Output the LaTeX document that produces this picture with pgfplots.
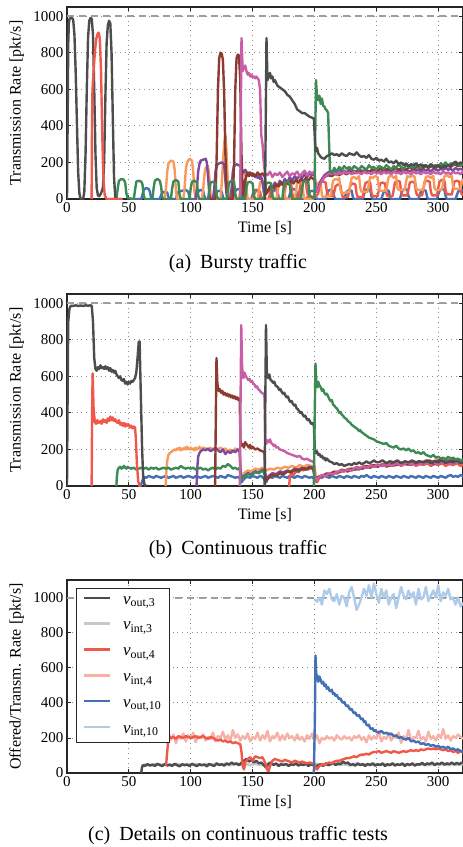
\documentclass[border=0pt]{standalone}
\usepackage{fontspec}
\setmainfont{Liberation Serif}
\usepackage{pgfplots}
\pgfplotsset{compat=1.18}
\definecolor{cgray}{HTML}{4D4D4D}
\definecolor{cred}{HTML}{F0584A}
\definecolor{cgreen}{HTML}{3E8A56}
\definecolor{corange}{HTML}{F79A5A}
\definecolor{cblue}{HTML}{4470B5}
\definecolor{cpurple}{HTML}{7E4A9E}
\definecolor{cbrown}{HTML}{8C3B30}
\definecolor{cmag}{HTML}{C85FA5}
\definecolor{lgray}{HTML}{C8C8C8}
\definecolor{lred}{HTML}{F7B2A8}
\definecolor{lblue}{HTML}{AECBEA}
\definecolor{refline}{HTML}{9E9E9E}

\pgfplotsset{
  panel/.style={
    scale only axis, width=396pt, height=192pt,
    xmin=0, xmax=320, ymin=0, ymax=1050,
    xtick={0,50,...,300}, ytick={0,200,...,1000},
    grid=major,
    major grid style={black!45, line width=0.8pt, dash pattern=on 0.8pt off 4pt},
    axis line style={line width=1.1pt, black!85},
    tick style={black!85, line width=0.8pt}, tick align=inside, major tick length=4pt,
    ticklabel style={font=\fontsize{15}{17}\selectfont},
    /pgf/number format/assume math mode=true,
    /pgf/number format/1000 sep={},
    xlabel={Time [s]},
    ylabel={Transmission Rate [pkt/s]},
    every axis y label/.style={at={(axis description cs:-0.127,0.5)},rotate=90,anchor=center,
      font=\fontsize{16}{19}\selectfont},
    every axis x label/.style={at={(axis description cs:0.5,0)},yshift=-29pt,anchor=center,
      font=\fontsize{16}{19}\selectfont},
  },
  ln/.style={line width=2.4pt, line join=round, #1},
  rl/.style={line width=2.1pt, refline, dash pattern=on 7pt off 5pt, forget plot},
}
\tikzset{capt/.style={font=\fontsize{20}{24}\selectfont}}

\begin{document}
\begin{tikzpicture}
\useasboundingbox (0,0) rectangle (463pt,-847pt);

% ---------------- (a) bursty traffic
\begin{axis}[panel, at={(67pt,-199pt)}, anchor=south west]
\addplot[rl] coordinates {(0,1000) (320,1000)};
% blue
\addplot[ln=cblue] coordinates {
(55,0)(60,0)(61,25)(62,50)(64,60)(66,55)(67,40)(68,5)(69,0)
(75,0)(76,20)(77,35)(79,40)(81,35)(82,10)(83,0)
(88,0)(89,25)(90,40)(93,45)(96,50)(98,40)(99,10)(100,0)
(104,0)(105,25)(106,40)(108,50)(110,45)(111,15)(112,0)
(119,0)(120,20)(121,40)(123,45)(125,40)(126,10)(127,0)
(134,0)(135,25)(136,45)(138,55)(140,50)(141,15)(142,0)
(149,0)(150,25)(151,45)(153,50)(155,45)(156,10)(157,0)
(164,0)(165,20)(166,40)(168,50)(170,45)(171,10)(172,0)
(179,0)(180,25)(181,45)(183,55)(185,50)(186,15)(187,0)
(194,0)(195,20)(196,40)(198,45)(200,40)(201,10)(202,0)
(209,0)(210,25)(211,45)(213,50)(215,45)(216,10)(217,0)
(224,0)(225,20)(226,40)(228,50)(230,45)(231,10)(232,0)
(239,0)(240,25)(241,45)(243,55)(245,50)(246,15)(247,0)
(254,0)(255,20)(256,40)(258,50)(260,45)(261,10)(262,0)
(269,0)(270,25)(271,45)(273,55)(275,50)(276,15)(277,0)
(284,0)(285,20)(286,40)(288,50)(290,45)(291,10)(292,0)
(299,0)(300,25)(301,45)(303,55)(305,50)(306,15)(307,0)
(314,0)(315,20)(316,40)(318,50)(320,45)};
% red bursts
\addplot[ln=cred] coordinates {
(145,0)(150,0)(151,20)(152,40)(154,45)(156,40)(157,10)(158,0)
(163,0)(164,30)(165,60)(167,70)(169,65)(170,20)(171,0)
(175,0)(176,40)(177,80)(179,95)(181,90)(182,30)(183,5)
(187,5)(188,50)(189,90)(191,100)(193,95)(194,40)(195,10)
(199,10)(200,20)(201,10)(203,30)(204,70)(205,100)(207,95)(209,90)(210,40)(211,15)
(215,15)(216,40)(217,70)(219,80)(221,75)(222,30)(223,10)
(227,10)(228,40)(229,75)(231,85)(233,80)(234,30)(235,10)
(239,10)(240,50)(241,85)(243,95)(245,90)(246,35)(247,15)
(251,15)(252,50)(253,85)(255,90)(257,85)(258,35)(259,15)
(263,15)(264,50)(265,90)(267,100)(269,95)(270,40)(271,20)
(275,20)(276,55)(277,90)(279,95)(281,90)(282,40)(283,20)
(287,20)(288,55)(289,95)(291,100)(293,95)(294,40)(295,20)
(299,20)(300,60)(301,95)(303,105)(305,100)(306,45)(307,25)
(311,25)(312,60)(313,95)(315,100)(317,95)(318,45)(319,25)(320,25)};
% orange
\addplot[ln=corange] coordinates {
(78,0)(79,0)(80,60)(81,150)(82,195)(84,210)(86,205)(87,160)(88,50)(89,0)
(94,0)(95,60)(96,160)(97,200)(99,220)(101,210)(102,150)(103,40)(104,0)
(109,0)(110,50)(111,130)(112,170)(114,180)(115,120)(116,30)(117,0)
(124,0)(125,80)(126,200)(127,300)(128,355)(129,250)(130,80)(131,0)
(139,0)(140,50)(141,120)(142,150)(144,140)(145,60)(146,0)
(154,0)(155,40)(156,90)(158,100)(159,40)(160,0)
(169,0)(170,30)(171,70)(173,80)(175,75)(176,20)(177,0)
(184,0)(185,40)(186,90)(188,100)(190,95)(191,30)(192,0)
(199,0)(200,30)(201,70)(203,90)(205,85)(206,20)(207,10)
(213,20)(214,60)(215,100)(217,110)(219,105)(220,115)(221,50)(222,30)
(228,40)(229,80)(230,115)(232,120)(234,110)(236,125)(237,60)(238,40)
(243,40)(244,90)(245,120)(247,115)(249,125)(251,120)(252,60)(253,45)
(258,45)(259,90)(260,120)(262,130)(264,115)(266,125)(267,60)(268,50)
(273,50)(274,95)(275,125)(277,120)(279,130)(281,120)(282,65)(283,50)
(288,50)(289,90)(290,120)(292,125)(294,115)(296,125)(297,60)(298,50)
(303,50)(304,95)(305,125)(307,130)(309,120)(311,125)(312,65)(313,55)
(318,55)(319,90)(320,110)};
% purple
\addplot[ln=cpurple] coordinates {
(103,0)(104,0)(105,60)(106,150)(107,190)(108,210)(110,215)(112,220)(113,200)(114,120)(115,30)(116,0)
(118,0)(119,60)(120,150)(121,185)(123,195)(125,200)(127,190)(128,100)(129,20)(130,0)
(132,0)(133,60)(134,150)(135,180)(137,190)(139,185)(141,170)(142,150)(143,145)(144,160)(145,150)
(146,135)(147,145)(148,130)(149,140)(150,125)(151,135)(152,120)(153,130)(154,115)(155,125)(156,110)
(157,120)(158,90)(159,40)(160,20)(162,40)(164,70)(166,60)(168,90)(170,70)(172,100)(174,80)(176,110)
(178,90)(180,120)(182,100)(184,125)(186,110)(188,130)(190,115)(192,135)(194,120)(196,140)(198,130)
(200,140)(201,60)(202,40)(204,80)(206,110)(208,130)(210,140)(212,150)(214,145)(216,155)(218,150)
(220,160)(222,150)(224,155)(226,145)(228,160)(230,150)(232,155)(234,145)(236,160)(238,155)(240,150)
(242,160)(244,145)(246,155)(248,150)(250,160)(252,150)(254,145)(256,155)(258,150)(260,160)(262,150)
(264,155)(266,145)(268,160)(270,150)(272,155)(274,160)(276,150)(278,155)(280,165)(282,155)(284,160)
(286,150)(288,165)(290,155)(292,160)(294,150)(296,165)(298,160)(300,155)(302,165)(304,160)(306,170)
(308,160)(310,165)(312,155)(314,170)(316,160)(318,165)(320,160)};
% brown
\addplot[ln=cbrown] coordinates {
(115,0)(120,0)(121,250)(122,600)(123,770)(124,800)(125,795)(126,760)(127,580)(128,250)(129,40)(130,0)
(134,0)(135,200)(136,600)(137,770)(138,790)(139,785)(140,650)(141,250)(142,40)(143,10)(144,100)
(145,130)(146,140)(147,125)(148,145)(149,130)(150,140)(152,125)(154,145)(156,130)(158,140)(160,120)
(161,30)(163,50)(165,70)(167,60)(169,80)(171,70)(173,90)(175,75)(177,95)(179,80)(181,100)(183,85)
(185,105)(187,90)(189,110)(191,95)(193,115)(195,100)(197,120)(199,110)(200,110)(201,40)(203,60)
(205,90)(208,120)(211,130)(214,125)(217,140)(220,130)(223,145)(226,135)(229,150)(232,140)(235,155)
(238,145)(241,160)(244,150)(247,160)(250,150)(253,165)(256,155)(259,165)(262,155)(265,170)(268,160)
(271,170)(274,160)(277,175)(280,165)(283,175)(286,165)(289,180)(292,170)(295,180)(298,170)(301,185)
(304,175)(307,185)(310,175)(313,190)(316,180)(320,185)};
% magenta
\addplot[ln=cmag] coordinates {
(139,0)(140,0)(140.5,500)(141,880)(142,700)(143,720)(144,730)(145,700)(146,680)(147,690)(148,670)
(149,680)(150,665)(151,670)(152,660)(153,670)(154,660)(155,650)(156,600)(157,350)(158,300)(159,200)
(160,140)(162,130)(164,150)(166,120)(168,140)(170,130)(172,145)(174,120)(176,135)(178,150)(180,125)
(182,140)(184,135)(186,150)(188,125)(190,140)(192,155)(194,130)(196,150)(198,140)(200,150)(201,60)
(202,40)(204,70)(206,100)(208,120)(210,130)(212,140)(214,135)(216,145)(218,130)(220,145)(222,135)
(224,150)(226,140)(228,145)(230,135)(232,150)(234,140)(236,145)(238,135)(240,150)(242,140)(244,145)
(246,135)(248,150)(250,140)(252,145)(254,135)(256,150)(258,140)(260,145)(262,135)(264,150)(266,140)
(268,145)(270,135)(272,150)(274,140)(276,145)(278,135)(280,150)(282,140)(284,145)(286,135)(288,150)
(290,140)(292,145)(294,135)(296,150)(298,140)(300,145)(302,135)(304,150)(306,140)(308,145)(310,135)
(312,150)(314,140)(316,145)(318,135)(320,150)};
% green
\addplot[ln=cgreen] coordinates {
(35,0)(40,0)(41,60)(42,100)(44,110)(46,105)(47,90)(48,30)(49,5)(54,0)(55,50)(56,95)(58,100)(60,95)
(61,80)(62,20)(63,0)(69,0)(70,60)(71,100)(73,110)(75,100)(76,70)(77,10)(78,0)(84,0)(85,60)(86,95)
(88,105)(90,95)(91,20)(92,0)(99,0)(100,60)(101,95)(103,100)(105,90)(106,20)(107,0)(114,0)(115,50)
(116,90)(118,95)(120,85)(121,20)(122,0)(129,0)(130,50)(131,90)(133,100)(135,95)(136,30)(137,0)
(144,5)(145,60)(146,90)(148,95)(150,85)(151,20)(152,0)(159,0)(160,50)(161,85)(163,90)(165,85)
(166,20)(167,0)(174,0)(175,60)(176,90)(178,95)(180,85)(181,20)(182,0)(189,0)(190,60)(191,95)
(193,100)(195,90)(196,20)(199,5)(200,10)(200.6,350)(201.2,650)(202,560)(203,540)(204,565)(205,520)
(206,550)(207,510)(208,505)(209,490)(210,485)(211,470)(211.8,300)(212.5,160)(214,140)(216,170)
(218,150)(220,175)(222,160)(224,180)(226,165)(228,175)(230,160)(232,180)(234,170)(236,160)(238,180)
(240,170)(242,160)(244,185)(246,170)(248,175)(250,160)(252,180)(254,175)(256,165)(258,185)(260,175)
(262,160)(264,180)(266,170)(268,190)(270,175)(272,165)(274,185)(276,175)(278,180)(280,170)(282,190)
(284,175)(286,170)(288,185)(290,180)(292,175)(294,190)(296,180)(298,185)(300,175)(302,195)(304,185)
(306,200)(308,180)(310,195)(312,185)(314,200)(316,190)(318,180)(320,195)};
% gray, second flow
\addplot[ln=cgray] coordinates {
(159,0)(160,0)(160.7,500)(161.2,880)(162,650)(163,670)(164,690)(165,660)(166,670)(167,640)(168,650)
(170,620)(172,610)(174,600)(176,590)(178,570)(180,560)(182,540)(184,520)(186,490)(188,480)(190,470)
(192,470)(194,460)(196,450)(198,445)(199.5,440)(200.5,300)(201,260)(202,280)(203,250)(204,240)
(205,230)(206,225)(208,220)(210,235)(212,240)(214,250)(216,240)(218,245)(220,235)(222,250)(224,240)
(226,235)(228,250)(230,245)(232,240)(234,255)(236,240)(238,230)(240,235)(242,225)(244,240)(246,220)
(248,215)(250,225)(252,210)(254,215)(256,205)(258,220)(260,200)(262,205)(264,195)(266,210)(268,190)
(270,200)(272,185)(274,195)(276,180)(278,190)(280,185)(282,195)(284,180)(286,190)(288,175)(290,185)
(292,175)(294,190)(296,180)(298,175)(300,185)(302,170)(304,180)(306,175)(308,185)(310,180)(312,195)
(314,205)(316,190)(318,200)(320,195)};
% gray, first flow
\addplot[ln=cgray] coordinates {
(0,0)(0.5,400)(1,850)(1.5,960)(2,985)(3,990)(4,990)(5,980)(6,900)(7,700)(8,420)(9,150)(10,30)(11,0)
(13,0)(14,40)(15,250)(16,600)(17,880)(18,975)(19,990)(20,985)(21,900)(22,600)(23,250)(24,60)(25,20)
(26,15)(27,25)(28,40)(29,60)(30,200)(31,550)(32,850)(33,950)(34,975)(35,960)(36,800)(37,450)(38,120)
(39,10)(40,0)(45,0)};
% red, first flow
\addplot[ln=cred] coordinates {
(19.9,0)(20.2,400)(20.6,600)(21.5,700)(22.5,800)(23.5,870)(24.5,900)(25.5,910)(26.5,880)(27.5,700)
(28.5,350)(29.5,100)(30.5,20)(32,0)(45,0)};
\end{axis}
\node[capt] at (238pt,-264pt) {(a)\hspace{0.45em}Bursty traffic};

% ---------------- (b) continuous traffic
\begin{axis}[panel, at={(67pt,-486pt)}, anchor=south west]
\addplot[rl] coordinates {(0,1000) (320,1000)};
% blue
\addplot[ln=cblue] coordinates {
(59.5,0)(60.5,20)(61.5,40)(62.5,50)(64,45)(66,55)(68,50)(70,45)(72,55)(74,50)(76,45)(78,50)(80,55)
(82,45)(84,50)(86,55)(88,45)(90,50)(92,55)(94,45)(96,50)(98,55)(100,50)(102,45)(104,55)(106,50)
(108,45)(110,50)(112,55)(114,45)(116,50)(118,55)(120,50)(122,45)(124,55)(126,50)(128,45)(130,60)
(132,55)(134,50)(136,45)(138,50)(140,40)(141,20)(142,30)(144,45)(146,50)(148,45)(150,55)(152,50)
(154,45)(156,55)(158,50)(160,30)(161,20)(162,40)(164,50)(166,45)(168,55)(170,50)(172,45)(174,55)
(176,50)(178,45)(180,55)(182,50)(184,45)(186,55)(188,50)(190,45)(192,55)(194,50)(196,45)(198,50)
(200,35)(201,25)(202,40)(204,50)(206,45)(208,55)(210,50)(212,45)(214,55)(216,50)(218,45)(220,55)
(222,50)(224,45)(226,55)(228,50)(230,45)(232,55)(234,50)(236,45)(238,55)(240,50)(242,60)(244,50)
(246,45)(248,55)(250,50)(252,45)(254,55)(256,50)(258,45)(260,55)(262,50)(264,45)(266,55)(268,50)
(270,45)(272,55)(274,50)(276,45)(278,55)(280,50)(282,45)(284,55)(286,50)(288,45)(290,55)(292,50)
(294,45)(296,55)(298,50)(300,45)(302,55)(304,50)(306,45)(308,55)(310,60)(312,50)(314,55)(316,50)
(318,60)(320,55)};
% red, second flow
\addplot[ln=cred] coordinates {
(179,0)(179.5,0)(180,40)(181,70)(183,60)(185,80)(187,75)(189,90)(191,85)(193,100)(195,90)(197,110)
(199,95)(200,105)(201,40)(202,20)(204,45)(207,55)(210,70)(213,65)(216,80)(219,75)(222,90)(225,85)
(228,95)(231,90)(234,105)(237,95)(240,110)(243,100)(246,115)(249,105)(252,110)(255,120)(258,105)
(261,115)(264,110)(267,125)(270,110)(273,120)(276,115)(279,125)(282,110)(285,120)(288,115)(291,125)
(294,110)(297,120)(300,115)(303,125)(306,110)(309,120)(312,115)(315,125)(318,110)(320,115)};
% orange
\addplot[ln=corange] coordinates {
(79.7,0)(80.3,80)(81,140)(82,170)(83,180)(84,185)(85,190)(86,195)(87,200)(88,195)(89,205)(90,200)
(91,210)(92,195)(93,205)(94,200)(95,210)(96,200)(97,215)(98,205)(99,200)(100,210)(101,200)(102,205)
(103,195)(104,210)(105,200)(106,205)(107,215)(108,200)(110,210)(112,205)(114,200)(116,210)(118,195)
(120,205)(122,200)(124,210)(126,200)(128,205)(130,190)(132,200)(134,185)(136,205)(138,195)(139.5,200)
(140.5,60)(143,70)(146,85)(149,80)(152,95)(155,90)(158,100)(161,85)(164,95)(167,90)(170,100)(173,95)
(176,105)(179,100)(182,110)(185,100)(188,115)(191,105)(194,115)(197,110)(200,105)(201,40)(203,50)
(206,60)(209,55)(212,70)(215,65)(218,80)(221,75)(224,85)(227,80)(230,95)(233,90)(236,100)(239,95)
(242,105)(245,100)(248,110)(251,105)(254,115)(257,110)(260,120)(263,115)(266,125)(269,120)(272,130)
(275,120)(278,125)(281,135)(284,125)(287,130)(290,140)(293,130)(296,135)(299,145)(302,130)(305,140)
(308,135)(311,145)(314,135)(317,140)(320,135)};
% purple
\addplot[ln=cpurple] coordinates {
(104.7,0)(105.3,100)(106,160)(107,180)(108,190)(109,195)(110,200)(112,195)(114,205)(116,190)(118,200)
(120,210)(122,195)(124,185)(126,200)(128,175)(130,190)(132,180)(134,195)(136,185)(138,200)(139.5,190)
(140.5,50)(143,55)(146,70)(149,65)(152,80)(155,75)(158,90)(160,70)(161,40)(163,55)(166,70)(169,65)
(172,80)(175,75)(178,85)(181,80)(184,95)(187,90)(190,100)(193,95)(196,105)(199,100)(200.5,40)(203,45)
(206,55)(209,60)(212,65)(215,75)(218,70)(221,85)(224,80)(227,90)(230,85)(233,95)(236,90)(239,105)
(242,100)(245,110)(248,105)(251,115)(254,110)(257,115)(260,110)(263,120)(266,115)(269,125)(272,120)
(275,130)(278,115)(281,125)(284,120)(287,130)(290,125)(293,135)(296,120)(299,130)(302,125)(305,135)
(308,130)(311,140)(314,125)(317,135)(320,130)};
% green, first flow
\addplot[ln=cgreen] coordinates {
(39.9,0)(40.3,50)(41,90)(42,100)(43,105)(44,95)(45,100)(46,110)(47,100)(48,95)(49,105)(50,100)(52,95)
(54,100)(56,90)(58,95)(60,100)(62,95)(64,100)(66,90)(68,100)(70,95)(72,100)(74,90)(76,95)(78,100)
(80,95)(82,100)(84,90)(86,95)(88,100)(90,95)(92,110)(94,100)(96,95)(98,100)(100,95)(102,100)(104,90)
(106,95)(108,100)(110,90)(112,95)(114,85)(116,95)(118,100)(120,90)(122,100)(124,95)(126,110)(128,105)
(130,120)(132,110)(134,95)(136,100)(138,90)(139.5,100)(140.5,40)(143,50)(146,65)(149,60)(152,75)
(155,70)(158,85)(160,60)(161,30)(163,45)(166,60)(169,55)(172,70)(175,65)(178,80)(181,75)(184,85)
(187,80)(190,95)(193,90)(196,100)(199,95)(200.5,30)(201,20)};
% brown
\addplot[ln=cbrown] coordinates {
(119.7,0)(120.3,400)(120.8,700)(121.5,560)(122.5,520)(123.5,530)(124.5,510)(125.5,520)(126.5,500)
(127.5,510)(128.5,495)(129.5,505)(130.5,490)(131.5,500)(132.5,485)(133.5,495)(134.5,480)(135.5,490)
(136.5,475)(137.5,485)(138.5,470)(139.5,480)(140.3,230)(141,220)(142,230)(143,210)(144,240)(145,230)
(146,220)(147,210)(148,225)(149,205)(150,215)(152,200)(154,205)(156,195)(158,190)(159.5,185)(160.3,60)
(161,30)(163,45)(166,60)(169,55)(172,70)(175,65)(178,80)(181,75)(184,90)(187,85)(190,95)(193,90)
(196,100)(199,95)(200.5,40)(203,50)(206,55)(209,65)(212,60)(215,75)(218,70)(221,80)(224,85)(227,80)
(230,95)(233,90)(236,100)(239,95)(242,110)(245,100)(248,115)(251,105)(254,115)(257,120)(260,110)
(263,125)(266,115)(269,120)(272,130)(275,120)(278,130)(281,125)(284,135)(287,125)(290,130)(293,140)
(296,130)(299,135)(302,145)(305,130)(308,140)(311,135)(314,145)(317,130)(320,140)};
% magenta
\addplot[ln=cmag] coordinates {
(139.7,0)(140.3,500)(140.8,880)(141.5,650)(142.5,590)(143.5,620)(144.5,600)(145.5,590)(146.5,580)
(147.5,585)(148.5,570)(149.5,575)(150.5,560)(151.5,555)(152.5,540)(153.5,545)(154.5,530)(155.5,525)
(156.5,515)(157.5,510)(158.5,505)(159.5,500)(160.3,260)(161,230)(162,250)(163,240)(164,255)(165,235)
(166,230)(167,220)(168,225)(169,210)(170,215)(172,200)(174,195)(176,190)(178,180)(180,175)(182,170)
(184,165)(186,160)(188,165)(190,150)(192,145)(194,150)(196,140)(198,135)(199.5,130)(200.3,40)(201,30)
(203,45)(206,60)(209,55)(212,70)(215,65)(218,75)(221,85)(224,80)(227,90)(230,85)(233,100)(236,95)
(239,105)(242,100)(245,110)(248,105)(251,115)(254,110)(257,120)(260,115)(263,110)(266,125)(269,115)
(272,120)(275,130)(278,120)(281,125)(284,115)(287,130)(290,120)(293,125)(296,135)(299,120)(302,130)
(305,125)(308,135)(311,120)(314,130)(317,125)(320,130)};
% red, first flow
\addplot[ln=cred] coordinates {
(19.9,0)(20.3,400)(20.7,615)(21.5,420)(22.5,350)(23.5,340)(24.5,360)(25.5,345)(27,355)(28,340)(29,365)
(30,350)(31,360)(32,345)(33,370)(34,355)(35,380)(36,360)(37,375)(38,355)(39,365)(40,350)(41,345)
(42,360)(43,335)(44,345)(45,330)(46,345)(47,325)(48,340)(49,330)(50,335)(51,320)(52,330)(53,315)
(54,325)(55,320)(55.7,250)(56.5,120)(57.5,30)(58.5,0)(60,0)};
% gray, first flow
\addplot[ln=cgray] coordinates {
(0,0)(0.5,500)(1,900)(2,970)(3,985)(5,985)(7,988)(9,985)(11,987)(13,985)(15,988)(17,986)(19,988)
(20,985)(21,900)(22,700)(23,640)(24,630)(25,650)(26,640)(27,660)(28,645)(29,650)(30,640)(31,655)
(32,640)(33,650)(34,630)(35,645)(36,625)(37,635)(38,620)(39,630)(40,610)(41,600)(42,590)(43,600)
(44,580)(45,575)(46,585)(47,560)(48,570)(49,555)(50,570)(51,560)(52,575)(53,570)(54,580)(55,590)
(56,620)(57,700)(58,790)(58.7,790)(59.3,600)(60,400)(60.7,200)(61.5,60)(62.5,10)(64,0)};
% gray, second flow
\addplot[ln=cgray] coordinates {
(159.7,0)(160.3,500)(160.8,880)(161.5,620)(162.5,590)(163.5,610)(164.5,580)(165.5,575)(166.5,565)
(167.5,570)(168.5,550)(169.5,545)(170.5,540)(171.5,525)(172.5,530)(173.5,515)(174.5,505)(175.5,510)
(176.5,495)(177.5,485)(178.5,490)(179.5,470)(180.5,460)(181.5,465)(182.5,450)(183.5,440)(184.5,445)
(185.5,425)(186.5,420)(187.5,410)(188.5,400)(189.5,405)(190.5,390)(191.5,380)(192.5,385)(193.5,370)
(194.5,360)(195.5,365)(196.5,350)(197.5,340)(198.5,345)(199.5,330)(200.3,200)(201,180)(202,190)
(203,170)(204,175)(205,160)(206,165)(207,150)(208,155)(209,140)(210,150)(212,135)(214,130)(216,120)
(218,125)(220,115)(222,120)(224,110)(226,115)(228,120)(230,115)(232,125)(234,120)(236,130)(238,120)
(240,125)(242,135)(244,125)(246,130)(248,140)(250,130)(252,130)(255,140)(258,125)(261,135)(264,130)
(267,140)(270,125)(273,135)(276,130)(279,140)(282,125)(285,135)(288,130)(291,140)(294,125)(297,135)
(300,130)(303,140)(306,125)(309,135)(312,130)(315,140)(318,125)(320,130)};
% green, second flow
\addplot[ln=cgreen] coordinates {
(199.5,0)(200.2,400)(200.8,670)(201.5,560)(202.5,540)(203,570)(204,550)(205,540)(206,520)(207,530)
(208,510)(209,500)(210,505)(211,490)(212,475)(213,465)(214,470)(215,445)(216,440)(217,430)(218,425)
(219,415)(220,400)(221,405)(222,390)(223,385)(224,375)(225,370)(226,365)(227,355)(228,350)(229,345)
(230,335)(231,330)(232,325)(233,320)(234,315)(235,310)(236,300)(237,305)(238,295)(239,290)(240,285)
(242,275)(244,265)(246,260)(248,255)(250,245)(252,240)(254,235)(256,230)(258,235)(260,220)(262,215)
(264,210)(266,220)(268,205)(270,200)(272,205)(274,195)(276,205)(278,190)(280,195)(282,180)(284,185)
(286,175)(288,185)(290,170)(292,165)(294,160)(296,170)(298,155)(300,160)(302,150)(304,155)(306,145)
(308,160)(310,150)(312,155)(314,145)(316,150)(318,140)(320,145)};
\end{axis}
\node[capt] at (238pt,-550pt) {(b)\hspace{0.45em}Continuous traffic};

% ---------------- (c) details
\begin{axis}[panel, at={(67pt,-773pt)}, anchor=south west, height=193pt, ymax=1100,
  ylabel={Offered/Transm. Rate [pkt/s]},
  legend style={at={(axis description cs:0.023,0.959)}, anchor=north west, draw=black!85,
    line width=0.8pt, fill=white, font=\fontsize{17}{20}\selectfont, row sep=12.5pt,
    inner xsep=6pt, inner ysep=6pt,
    /tikz/every odd column/.append style={column sep=10pt}},
  legend cell align=left,
  legend image code/.code={\draw[#1, line width=2.6pt] (0pt,0.3em) -- (26pt,0.3em);}]
\addplot[rl] coordinates {(0,1000) (320,1000)};
% v_int,3
\addplot[ln=lgray, line width=2.8pt, forget plot] coordinates {
(60,40)(64,50)(68,45)(72,52)(76,47)(80,50)(84,45)(88,52)(92,46)(96,50)(100,48)(104,52)(108,45)(112,50)
(116,47)(120,52)(124,48)(128,50)(132,45)(136,52)(140,48)(144,50)(148,46)(152,52)(156,48)(160,50)
(164,45)(168,52)(172,48)(176,50)(180,46)(184,52)(188,48)(192,50)(196,45)(200,52)(204,48)(208,50)
(212,46)(216,52)(220,48)(224,50)(228,45)(232,52)(236,48)(240,50)(244,46)(248,52)(252,48)(256,50)
(260,45)(264,52)(268,48)(272,50)(276,46)(280,52)(284,48)(288,50)(292,45)(296,52)(300,48)(304,50)
(308,46)(312,52)(316,48)(320,50)};
% v_out,3
\addplot[ln=cgray, forget plot] coordinates {
(60,0)(60.5,30)(61.5,45)(63,40)(65,50)(67,42)(69,48)(71,40)(73,52)(75,45)(77,40)(79,50)(81,42)(83,48)
(85,40)(87,52)(89,45)(91,38)(93,50)(95,44)(97,48)(99,40)(101,52)(103,45)(105,40)(107,50)(109,44)
(111,48)(113,38)(115,52)(117,45)(119,40)(121,55)(123,45)(125,50)(127,42)(129,55)(131,48)(133,60)
(135,50)(137,55)(139,45)(141,60)(143,70)(145,80)(147,65)(149,75)(151,60)(153,70)(155,55)(157,60)
(159,45)(161,30)(163,55)(165,60)(167,45)(169,55)(171,40)(173,50)(175,45)(177,52)(179,40)(181,50)
(183,45)(185,55)(187,42)(189,50)(191,45)(193,55)(195,40)(197,50)(199,45)(201,35)(203,45)(205,50)
(207,40)(209,55)(211,45)(213,50)(215,60)(217,45)(219,55)(221,50)(223,65)(225,55)(227,60)(229,45)
(231,50)(233,42)(235,55)(237,45)(239,50)(241,40)(243,52)(245,45)(247,55)(249,42)(251,50)(253,45)
(255,55)(257,40)(259,50)(261,45)(263,55)(265,42)(267,50)(269,45)(271,55)(273,40)(275,52)(277,45)
(279,55)(281,42)(283,50)(285,48)(287,58)(289,45)(291,55)(293,50)(295,60)(297,45)(299,55)(301,50)
(303,60)(305,48)(307,55)(309,50)(311,60)(313,48)(315,58)(317,50)(319,60)(320,55)};
% v_int,4
\addplot[ln=lred, forget plot] coordinates {
(80,170)(82,230)(84,190)(86,220)(88,170)(90,210)(92,195)(94,225)(96,180)(98,215)(100,200)(102,230)
(104,175)(106,210)(108,200)(110,220)(112,185)(114,205)(116,195)(118,230)(120,180)(122,210)(124,200)
(126,235)(128,190)(130,215)(132,180)(134,245)(136,200)(138,220)(140,185)(142,210)(144,195)(146,225)
(148,180)(150,205)(152,195)(154,230)(156,185)(158,215)(160,195)(162,240)(164,180)(166,210)(168,200)
(170,230)(172,185)(174,215)(176,190)(178,225)(180,200)(182,210)(184,185)(186,220)(188,190)(190,205)
(192,180)(194,215)(196,195)(198,225)(200,185)(202,215)(204,170)(206,200)(208,190)(210,210)(212,195)
(214,205)(216,185)(218,215)(220,200)(222,190)(224,210)(226,195)(228,205)(230,185)(232,210)(234,200)
(236,215)(238,190)(240,205)(242,175)(244,215)(246,190)(248,210)(250,195)(252,240)(254,180)(256,205)
(258,195)(260,230)(262,185)(264,210)(266,200)(268,230)(270,170)(272,210)(274,195)(276,245)(278,185)
(280,205)(282,200)(284,240)(286,190)(288,205)(290,180)(292,235)(294,195)(296,210)(298,185)(300,220)
(302,200)(304,250)(306,195)(308,215)(310,185)(312,210)(314,200)(316,220)(318,205)(320,195)};
% v_out,4
\addplot[ln=cred, forget plot] coordinates {
(80,40)(81,120)(82,210)(84,200)(86,205)(88,195)(90,210)(92,205)(94,200)(96,210)(98,205)(100,200)
(102,205)(104,210)(106,200)(108,205)(110,210)(112,200)(114,195)(116,205)(118,200)(120,190)(122,185)
(124,190)(126,180)(128,185)(130,175)(132,180)(134,170)(136,175)(138,170)(140,165)(141,120)(142,40)
(143,20)(144,60)(146,80)(148,90)(150,70)(152,95)(154,90)(156,85)(158,90)(160,60)(161,40)(162,15)
(163,10)(164,40)(166,70)(168,80)(170,75)(172,70)(174,65)(176,75)(178,70)(180,65)(182,60)(184,70)
(186,65)(188,60)(190,65)(192,60)(194,55)(196,60)(198,55)(200,50)(201,30)(202,20)(204,40)(206,50)
(208,45)(210,55)(212,60)(214,55)(216,65)(218,70)(220,70)(222,75)(224,80)(226,85)(228,85)(230,90)
(232,95)(234,90)(236,100)(238,105)(240,105)(242,110)(244,105)(246,115)(248,120)(250,120)(252,125)
(254,115)(256,120)(258,125)(260,120)(262,115)(264,125)(266,120)(268,115)(270,120)(272,125)(274,120)
(276,125)(278,130)(280,125)(282,130)(284,125)(286,135)(288,130)(290,135)(292,140)(294,135)(296,140)
(298,135)(300,140)(302,135)(304,130)(306,135)(308,125)(310,130)(312,120)(314,125)(316,115)(318,125)
(320,120)};
% v_out,10
\addplot[ln=cblue, forget plot] coordinates {
(199.5,0)(200.3,300)(200.8,670)(201.5,540)(202,560)(203,520)(204,550)(205,530)(206,510)(207,520)
(208,495)(209,505)(210,480)(211,490)(212,470)(213,465)(214,475)(215,450)(216,455)(217,440)(218,445)
(219,430)(220,420)(221,425)(222,410)(223,400)(224,405)(225,390)(226,380)(227,385)(228,370)(229,360)
(230,365)(231,350)(232,340)(233,345)(234,330)(235,325)(236,330)(237,315)(238,305)(239,310)(240,290)
(241,295)(242,275)(243,270)(244,275)(245,255)(246,250)(247,255)(248,240)(249,245)(250,235)(252,230)
(254,240)(256,225)(258,230)(260,220)(262,225)(264,210)(266,215)(268,200)(270,205)(272,195)(274,190)
(276,200)(278,180)(280,185)(282,175)(284,180)(286,165)(288,170)(290,160)(292,165)(294,155)(296,160)
(298,150)(300,155)(302,145)(304,150)(306,140)(308,150)(310,135)(312,140)(314,130)(316,135)(318,125)
(320,120)};
% v_int,10
\addplot[ln=lblue, forget plot] coordinates {
(200,990)(202,975)(204,1000)(206,960)(208,1040)(210,1020)(212,1050)(214,990)(216,980)(218,1020)
(220,960)(222,1010)(224,1000)(226,950)(228,1030)(230,1060)(232,1000)(234,930)(236,960)(238,1000)
(240,1050)(242,1010)(244,1070)(246,1000)(248,1080)(250,1020)(252,970)(254,1050)(256,1000)(258,1040)
(260,960)(262,1000)(264,1020)(266,940)(268,1000)(270,1060)(272,1010)(274,990)(276,1040)(278,1000)
(280,1030)(282,960)(284,1050)(286,990)(288,1000)(290,1060)(292,980)(294,1010)(296,1040)(298,1000)
(300,1070)(302,980)(304,1030)(306,1010)(308,1050)(310,990)(312,1000)(314,960)(316,1000)(318,950)
(320,970)};
\addlegendimage{cgray}
\addlegendentry{\textit{v}\textsubscript{out,3}}
\addlegendimage{lgray}
\addlegendentry{\textit{v}\textsubscript{int,3}}
\addlegendimage{cred}
\addlegendentry{\textit{v}\textsubscript{out,4}}
\addlegendimage{lred}
\addlegendentry{\textit{v}\textsubscript{int,4}}
\addlegendimage{cblue}
\addlegendentry{\textit{v}\textsubscript{out,10}}
\addlegendimage{lblue}
\addlegendentry{\textit{v}\textsubscript{int,10}}
\end{axis}
\node[capt] at (238pt,-836pt) {(c)\hspace{0.45em}Details on continuous traffic tests};
\end{tikzpicture}
\end{document}
